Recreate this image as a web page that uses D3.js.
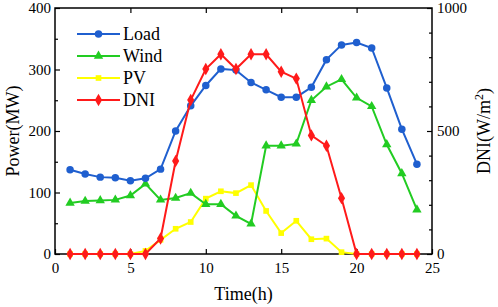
<!doctype html>
<html lang="en">
<head>
    <meta charset="utf-8">
    <title>power and DNI over a day</title>
    <script src="https://cdn.jsdelivr.net/npm/d3@7"></script>
</head>
<body style="margin:0">
    <svg></svg>
    <script>
        var width = 498;
        var height = 307;
        var margin = { left: 55, right: 66, top: 8, bottom: 53 };
        var serif = "Liberation Serif";

        // hours 1..24
        var hours = d3.range(1, 25);
        var load = [137, 130, 125, 124, 119, 123, 138, 200, 241, 274, 301, 299, 279, 267, 255, 255, 271, 316, 340, 344, 335, 270, 203, 146];
        var wind = [83, 86, 87, 88, 95, 114, 88, 91, 99, 81, 81, 62, 49, 176, 176, 179, 250, 272, 284, 254, 240, 178, 131, 72];
        var pv = [0, 0, 0, 0, 0, 5, 23, 41, 52, 90, 102, 99, 112, 70, 34, 54, 24, 25, 3, 0, 0, 0, 0, 0];
        var dni = [0, 0, 0, 0, 0, 0, 63, 378, 626, 752, 812, 752, 812, 812, 741, 713, 482, 440, 227, 0, 0, 0, 0, 0];

        var seriesNames = ["Load", "Wind", "PV", "DNI"];
        var colors = ["#1f5fcf", "#22cc22", "#ffff00", "#ff1a1a"];

        var svg = d3.select('svg').attr('width', width).attr('height', height);

        var x = d3.scaleLinear().domain([0, 25]).range([margin.left, width - margin.right]);
        var yL = d3.scaleLinear().domain([0, 400]).range([height - margin.bottom, margin.top]);
        var yR = d3.scaleLinear().domain([0, 1000]).range([height - margin.bottom, margin.top]);

        var x0 = x.range()[0], x1 = x.range()[1];
        var y0 = yL.range()[0], y1 = yL.range()[1];

        // minor ticks first
        svg.append("g").attr("transform", "translate(" + x0 + ",0)")
            .call(d3.axisRight(yL).tickValues(d3.range(50, 400, 100)).tickSize(3).tickFormat(""));
        svg.append("g").attr("transform", "translate(" + x1 + ",0)")
            .call(d3.axisLeft(yR).tickValues([100, 200, 300, 400, 600, 700, 800, 900]).tickSize(3).tickFormat(""));

        // major ticks, pointing inward
        var axL = svg.append("g").attr("transform", "translate(" + x0 + ",0)")
            .call(d3.axisRight(yL).tickValues([0, 100, 200, 300, 400]).tickSize(5));
        axL.selectAll("text").attr("text-anchor", "end").attr("x", -4);

        var axR = svg.append("g").attr("transform", "translate(" + x1 + ",0)")
            .call(d3.axisLeft(yR).tickValues([0, 500, 1000]).tickSize(5).tickFormat(d3.format("d")));
        axR.selectAll("text").attr("text-anchor", "start").attr("x", 5);

        var axB = svg.append("g").attr("transform", "translate(0," + y0 + ")")
            .call(d3.axisTop(x).tickValues([0, 5, 10, 15, 20, 25]).tickSize(5));
        axB.selectAll("text").attr("y", 19).attr("dy", "0");

        svg.append("g").attr("transform", "translate(0," + y1 + ")")
            .call(d3.axisBottom(x).tickValues([5, 10, 15, 20]).tickSize(5).tickFormat(""));

        svg.selectAll("g").attr("font-family", serif).attr("font-size", 15);
        svg.selectAll(".tick text").attr("font-family", serif).attr("font-size", 15).attr("fill", "#000");
        svg.selectAll(".domain").remove();
        svg.selectAll(".tick line").attr("stroke", "#000").attr("stroke-width", 1.2);

        // frame
        svg.append("rect")
            .attr("x", x0).attr("y", y1)
            .attr("width", x1 - x0).attr("height", y0 - y1)
            .attr("fill", "none").attr("stroke", "#000").attr("stroke-width", 1.5);

        var series = [
            { name: "Load", values: load, y: yL, sym: d3.symbolCircle, size: 44 },
            { name: "Wind", values: wind, y: yL, sym: d3.symbolTriangle, size: 38 },
            { name: "PV", values: pv, y: yL, sym: d3.symbolSquare, size: 32 },
            { name: "DNI", values: dni, y: yR, sym: d3.symbolDiamond, size: 44 }
        ];

        // draw PV first so others sit on top like the original
        var order = [2, 1, 0, 3];
        order.forEach(function (i) {
            var s = series[i];
            var line = d3.line()
                .x(function (d, j) { return x(hours[j]); })
                .y(function (d) { return s.y(d); });
            svg.append("path")
                .datum(s.values)
                .attr("d", line)
                .attr("fill", "none")
                .attr("stroke", colors[i])
                .attr("stroke-width", 2);
            svg.selectAll(".m" + i)
                .data(s.values)
                .enter()
                .append("path")
                .attr("class", "m" + i)
                .attr("d", d3.symbol().type(s.sym).size(s.size))
                .attr("transform", function (d, j) { return "translate(" + x(hours[j]) + "," + s.y(d) + ")"; })
                .attr("fill", colors[i]);
        });

        // legend
        var legend = svg.append("g");
        series.forEach(function (s, i) {
            var ly = 34 + i * 22;
            legend.append("line")
                .attr("x1", 77).attr("x2", 120).attr("y1", ly).attr("y2", ly)
                .attr("stroke", colors[i]).attr("stroke-width", 2);
            legend.append("path")
                .attr("d", d3.symbol().type(s.sym).size(s.size))
                .attr("transform", "translate(98.5," + ly + ")")
                .attr("fill", colors[i]);
            legend.append("text")
                .attr("x", 123).attr("y", ly + 6)
                .attr("font-size", 18).attr("font-family", serif)
                .text(s.name);
        });

        // axis titles
        svg.append("text")
            .attr("transform", "translate(19," + ((y0 + y1) / 2) + ") rotate(-90)")
            .attr("text-anchor", "middle")
            .attr("font-size", 18).attr("font-family", serif)
            .text("Power(MW)");

        var rt = svg.append("text")
            .attr("transform", "translate(490," + ((y0 + y1) / 2) + ") rotate(-90)")
            .attr("text-anchor", "middle")
            .attr("font-size", 18).attr("font-family", serif);
        rt.append("tspan").text("DNI(W/m");
        rt.append("tspan").attr("font-size", 12).attr("dy", -7).text("2");
        rt.append("tspan").attr("dy", 7).text(")");

        svg.append("text")
            .attr("x", (x0 + x1) / 2).attr("y", 300)
            .attr("text-anchor", "middle")
            .attr("font-size", 18).attr("font-family", serif)
            .text("Time(h)");
    </script>
</body>
</html>
